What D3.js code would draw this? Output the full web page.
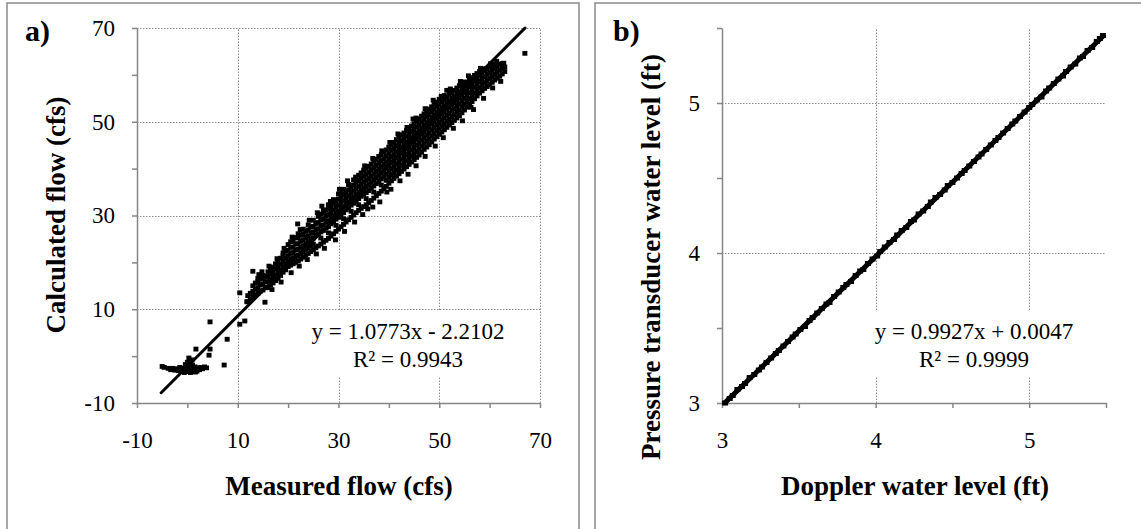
<!DOCTYPE html>
<html>
<head>
<meta charset="utf-8">
<title>Flow and water level comparison</title>
<script src="https://cdn.jsdelivr.net/npm/d3@7"></script>
<style>
  body { margin: 0; background: #fff; }
  svg { display: block; }
  .frame { fill: none; stroke: #8a8a8a; stroke-width: 1.5; }
  .axis path, .axis line { stroke: #868686; stroke-width: 1.5; }
  .axis text { font-family: "Liberation Serif", "Times New Roman", serif; font-size: 23px; fill: #000; }
  .grid line { stroke: #8c8c8c; stroke-width: 1; stroke-dasharray: 1.5,1.5; }
  .title { font-family: "Liberation Serif", "Times New Roman", serif; font-weight: bold; font-size: 27px; text-anchor: middle; }
  .tag { font-family: "Liberation Serif", "Times New Roman", serif; font-weight: bold; font-size: 30px; }
  .eq { font-family: "Liberation Serif", "Times New Roman", serif; font-size: 23px; text-anchor: middle; }
</style>
</head>
<body>
<script>
// ---- panel a: measured vs calculated flow (cfs)
// scattered points, [measured, calculated]
var flowScatter = [
  [-5.0,-2.2],[-4.6,-2.4],[-3.8,-2.6],[-3.3,-2.9],[-2.9,-2.6],[-2.5,-3.0],[-2.1,-2.7],[-1.8,-3.1],[-1.5,-2.4],[-1.3,-2.9],
  [-1.0,-3.2],[-0.8,-2.6],[-0.5,-3.0],[-0.3,-2.3],[-0.1,-3.3],[0.1,-2.7],[0.3,-3.1],[0.5,-2.4],[0.7,-2.9],[0.9,-3.3],
  [1.1,-2.6],[1.3,-3.0],[1.5,-2.3],[1.7,-2.8],[1.9,-3.2],[2.1,-2.5],[2.4,-2.9],[2.7,-2.4],[3.0,-2.7],[3.4,-2.3],
  [3.8,-2.5],[0.4,-2.0],[-0.4,-1.8],[1.0,-1.9],[0.6,-3.5],[-0.6,-3.5],[1.6,-3.4],[7.3,-1.9],[0.3,-0.4],[0.0,-1.3],
  [1.7,1.5],[4.3,0.2],[4.5,1.5],[4.5,7.3],[7.9,3.6],[0.9,-0.8],
  [10.4,6.8],[11.4,7.5],[10.4,13.5],[11.8,11.6],[13.0,18.1],[15.4,11.5],[14.2,17.4],
  [21.9,28.2],[26.7,32.0],[35.8,31.4],[38.2,32.9],[39.6,35.0],[44.8,50.6],[51.5,56.7],[56.3,53.1],[67.0,64.6]
];
// points straying just outside the dense band (upper and lower edges)
var flowEdge = [
  [14.8,18.0],[16.2,19.2],[17.8,20.8],[19.2,23.0],[20.8,25.4],[22.4,27.0],[24.2,29.0],[25.8,30.6],[28.4,33.0],
  [30.2,35.6],[31.8,37.4],[33.4,38.2],[35.2,40.6],[36.8,42.2],[38.6,43.8],[40.2,45.6],[41.8,47.4],[43.6,48.8],
  [45.4,50.8],[47.2,52.8],[48.8,54.6],[50.4,55.4],[52.2,57.0],[54.2,58.6],[55.8,59.8],[58.2,61.4],[60.2,62.4],
  [16.8,14.2],[18.6,15.8],[20.6,17.8],[22.2,19.2],[23.8,20.6],[25.6,21.8],[27.2,23.0],[29.4,24.8],[31.2,26.6],
  [33.2,28.6],[34.8,30.2],[36.8,31.8],[40.4,35.6],[42.2,37.4],[43.8,38.8],[45.4,40.6],[47.2,42.6],[49.2,44.8],
  [50.8,46.6],[52.8,48.6],[54.6,50.2],[56.8,52.6],[58.8,55.0],[60.6,57.2],[62.2,58.6],[62.8,62.5],[61.4,62.9]
];
// dense band of points: [measured, [calculated values at that measured flow]]
var flowColumns = [
  [12.0,[11.6,12.9]],[12.5,[12.2,13.4]],[13.0,[12.6,13.8,15.0]],[13.5,[13.0,14.3,15.6]],
  [14.0,[13.4,14.6,15.9,16.6]],[14.5,[13.9,15.2,16.4]],[15.0,[14.1,15.3,16.5,17.2]],[15.5,[14.6,15.9,17.0]],
  [16.0,[14.6,15.8,17.0,18.0]],[16.5,[15.2,16.4,17.6,18.5]],[17.0,[15.6,16.8,18.0,19.0]],[17.5,[16.1,17.3,18.6,19.7]],
  [18.0,[16.6,17.8,19.0,20.3]],[18.5,[17.2,18.4,19.6,20.9]],[19.0,[17.9,19.0,20.2,21.4,22.0]],[19.5,[18.4,19.7,20.9,22.4]],
  [20.0,[19.1,20.2,21.4,22.6,23.8]],[20.5,[19.4,20.7,21.9,23.2,24.4]],[21.0,[19.7,20.9,22.1,23.3,24.6]],
  [21.5,[20.0,21.3,22.6,23.9,25.3]],[22.0,[20.3,21.5,22.8,24.0,25.2,26.1]],[22.5,[20.7,21.9,23.2,24.5,25.8]],
  [23.0,[21.1,22.3,23.5,24.8,26.0,27.1]],[23.5,[21.5,22.8,24.0,25.3,26.6]],[24.0,[21.9,23.1,24.4,25.6,26.9,28.0]],
  [24.5,[22.3,23.6,24.9,26.2,27.5]],[25.0,[22.7,23.9,25.2,26.4,27.7,29.0]],[25.5,[23.1,25.7,27.0,28.3]],
  [26.0,[23.5,26.0,27.2,28.5,29.8]],[26.5,[23.9,25.2,26.5,27.8,29.1,30.3]],[27.0,[24.3,26.8,28.0,29.3,30.6,31.1]],
  [27.5,[24.7,27.3,28.6,29.9,31.2]],[28.0,[25.1,26.3,27.6,28.9,30.2,31.5,32.3]],[28.5,[25.6,28.2,29.5,30.8,32.0]],
  [29.0,[26.1,28.6,29.9,31.2,32.5,33.4]],[29.5,[26.6,27.9,29.2,30.5,31.8,33.1]],[30.0,[27.1,29.6,30.9,32.2,33.5,34.6]],
  [30.5,[27.6,30.2,31.5,32.8,34.1,35.1]],[31.0,[28.1,29.3,30.6,31.9,33.2,34.5,35.6]],[31.5,[28.6,31.2,32.5,33.8,35.1]],
  [32.0,[29.1,31.6,32.9,34.2,35.5,36.6]],[32.5,[29.6,30.9,32.2,33.5,34.8,36.1]],[33.0,[30.1,32.6,33.9,35.2,36.5,37.6]],
  [33.5,[30.6,33.2,34.5,35.8,37.1]],[34.0,[31.1,32.3,33.6,34.9,36.2,37.5,38.6]],[34.5,[31.5,34.1,35.4,36.7,38.0,39.1]],
  [35.0,[31.9,34.5,35.8,37.1,38.4,39.7]],[35.5,[32.3,33.6,34.9,36.2,37.5,38.8,40.1]],[36.0,[32.7,35.3,36.6,37.9,39.2,40.5]],
  [36.5,[33.2,35.8,37.1,38.4,39.7,41.0]],[37.0,[33.7,35.0,36.3,37.6,38.9,40.2,41.6]],[37.5,[34.2,36.8,38.1,39.4,40.7,42.0]],
  [38.0,[34.7,37.3,38.6,39.9,41.2,42.6]],[38.5,[35.2,36.5,37.8,39.1,40.4,41.7,43.0]],[39.0,[35.7,38.3,39.6,40.9,42.2,43.6]],
  [39.5,[36.2,37.5,38.8,40.1,41.4,42.7,44.0]],[40.0,[36.9,38.1,39.4,40.7,42.0,43.3,44.6]],
  [40.5,[37.4,38.7,40.0,41.3,42.6,43.9,45.1]],[41.0,[37.9,39.1,40.4,41.7,43.0,44.3,45.6]],
  [41.5,[38.4,39.7,41.0,42.3,43.6,44.9,46.2]],[42.0,[38.9,40.1,41.4,42.7,44.0,45.3,46.6]],
  [42.5,[39.4,40.7,42.0,43.3,44.6,45.9,47.2]],[43.0,[39.9,41.1,42.4,43.7,45.0,46.3,47.6]],
  [43.5,[40.4,41.7,43.0,44.3,45.6,46.9,48.1]],[44.0,[40.9,42.1,43.4,44.7,46.0,47.3,48.6]],
  [44.5,[41.4,42.7,44.0,45.3,46.6,47.9,49.1]],[45.0,[41.9,43.1,44.4,45.7,47.0,48.3,49.6]],
  [45.5,[42.4,43.7,45.0,46.3,47.6,48.9,50.1]],[46.0,[42.9,44.1,45.4,46.7,48.0,49.3,50.6]],
  [46.5,[43.5,44.8,46.1,47.4,48.7,50.0,51.2]],[47.0,[44.1,45.3,46.6,47.9,49.2,50.5,51.7]],
  [47.5,[44.6,45.9,47.2,48.5,49.8,51.1,52.2]],[48.0,[45.1,46.3,47.6,48.9,50.2,51.5,52.7]],
  [48.5,[45.7,47.0,48.3,49.6,50.9,52.2,53.2]],[49.0,[46.3,47.5,48.8,50.1,51.4,52.7,53.8]],
  [49.5,[46.8,48.1,49.4,50.7,52.0,53.3,54.2]],[50.0,[47.3,48.5,49.8,51.1,52.4,53.7,54.8]],
  [50.5,[47.8,49.1,50.4,51.7,53.0,54.3]],[51.0,[48.3,49.5,50.8,52.1,53.4,54.7,55.6]],
  [51.5,[48.8,50.1,51.4,52.7,54.0,55.2]],[52.0,[49.3,50.5,51.8,53.1,54.4,55.7,56.4]],
  [52.5,[49.8,51.1,52.4,53.7,55.0,56.2]],[53.0,[50.3,51.5,52.8,54.1,55.4,56.7]],
  [53.5,[50.8,52.1,53.4,54.7,56.0,57.2]],[54.0,[51.3,52.5,53.8,55.1,56.4,57.7]],
  [54.5,[51.9,53.2,54.5,55.8,57.1,58.2]],[55.0,[52.5,53.7,55.0,56.3,57.6,58.5]],
  [55.5,[53.1,54.4,55.7,57.0,58.2]],[56.0,[53.7,54.9,56.2,57.5,58.8,59.3]],
  [56.5,[54.3,55.6,56.9,58.2,59.4]],[57.0,[54.9,56.1,57.4,58.7,59.9]],
  [57.5,[55.5,56.8,58.1,59.4,60.3]],[58.0,[56.1,57.3,58.6,59.9,60.7]],
  [58.5,[56.6,57.9,59.2,60.5]],[59.0,[57.1,58.3,59.6,60.9,61.3]],
  [59.5,[57.5,58.8,60.1,61.4]],[60.0,[57.9,59.2,60.5,61.8]],
  [60.5,[58.4,59.7,61.0,62.1]],[61.0,[58.9,60.1,61.4,62.3]],
  [61.5,[59.3,60.6,61.9]],[62.0,[59.7,61.0,62.3]],[62.5,[60.2,61.4,62.4]],[63.0,[60.7,61.7]]
];
var flowTicks = [-10, 10, 30, 50, 70];
var flowMinor = [0, 20, 40, 60];
var flowTrend = [1.0773, -2.2102];        // slope, intercept
var flowTrendRange = [-5.2, 67.03];
var flowEq = ["y = 1.0773x - 2.2102", "R\u00b2 = 0.9943"];

// ---- panel b: doppler vs pressure transducer water level (ft)
var dopplerLevel = [
  3.02,3.05,3.07,3.10,3.13,3.15,3.18,3.21,3.24,3.26,
  3.29,3.32,3.35,3.37,3.40,3.43,3.46,3.48,3.51,3.54,
  3.57,3.59,3.62,3.65,3.68,3.70,3.73,3.76,3.79,3.81,
  3.84,3.87,3.90,3.92,3.95,3.98,4.01,4.03,4.06,4.09,
  4.12,4.14,4.17,4.20,4.23,4.25,4.28,4.31,4.34,4.36,
  4.39,4.42,4.45,4.47,4.50,4.53,4.56,4.58,4.61,4.64,
  4.67,4.69,4.72,4.75,4.78,4.80,4.83,4.86,4.89,4.91,
  4.94,4.97,5.00,5.02,5.05,5.08,5.11,5.13,5.16,5.19,
  5.22,5.24,5.27,5.30,5.33,5.35,5.38,5.41,5.44,5.46,
  5.48
];
var transducerLevel = [
  3.00,3.03,3.05,3.09,3.11,3.13,3.17,3.19,3.22,3.24,
  3.27,3.30,3.33,3.35,3.38,3.41,3.44,3.46,3.49,3.51,
  3.55,3.57,3.60,3.63,3.66,3.67,3.71,3.74,3.77,3.79,
  3.81,3.85,3.88,3.89,3.93,3.96,3.98,4.01,4.04,4.07,
  4.09,4.12,4.15,4.17,4.21,4.22,4.26,4.28,4.31,4.34,
  4.37,4.39,4.42,4.45,4.47,4.50,4.53,4.55,4.58,4.61,
  4.64,4.66,4.69,4.72,4.75,4.77,4.80,4.83,4.86,4.88,
  4.91,4.94,4.97,4.99,5.02,5.04,5.08,5.10,5.13,5.16,
  5.18,5.21,5.24,5.26,5.30,5.31,5.35,5.37,5.41,5.43,
  5.45
];
var levelTicks = [3, 4, 5];
var levelMinor = [3.5, 4.5, 5.5];
var levelTrend = [0.9927, 0.0047];
var levelTrendRange = [3.02, 5.48];
var levelEq = ["y = 0.9927x + 0.0047", "R\u00b2 = 0.9999"];

var W = 1141, H = 529;

var svg = d3.select("body").append("svg")
    .attr("width", W)
    .attr("height", H);

svg.append("rect").attr("width", W).attr("height", H).attr("fill", "#fff");

// outer chart frames (they run off the bottom / right edge)
svg.append("rect").attr("class", "frame")
    .attr("x", 7).attr("y", 3).attr("width", 572).attr("height", 560);
svg.append("rect").attr("class", "frame")
    .attr("x", 595).attr("y", 3).attr("width", 580).attr("height", 560);

function drawPanel(opt) {
  var x = opt.x, y = opt.y;
  var g = svg.append("g");

  // dotted gridlines at major ticks (not on the axis itself)
  var grid = g.append("g").attr("class", "grid");
  grid.selectAll(".gx")
      .data(opt.ticks.filter(d => d !== x.domain()[0]))
      .enter().append("line")
      .attr("x1", d => Math.round(x(d)) + 0.5).attr("x2", d => Math.round(x(d)) + 0.5)
      .attr("y1", y.range()[0]).attr("y2", y.range()[1]);
  grid.selectAll(".gy")
      .data(opt.ticks.filter(d => d !== y.domain()[0]))
      .enter().append("line")
      .attr("y1", d => Math.round(y(d)) + 0.5).attr("y2", d => Math.round(y(d)) + 0.5)
      .attr("x1", x.range()[0]).attr("x2", x.range()[1]);

  // white box behind the trendline equation
  g.append("rect")
      .attr("x", opt.eqBox[0]).attr("y", opt.eqBox[1])
      .attr("width", opt.eqBox[2]).attr("height", opt.eqBox[3])
      .attr("fill", "#fff");
  g.selectAll(".eq")
      .data(opt.eq)
      .enter().append("text")
      .attr("class", "eq")
      .attr("x", opt.eqPos[0])
      .attr("y", (d, i) => opt.eqPos[1] + i * 28)
      .text(d => d);

  // axes
  var xAxis = g.append("g").attr("class", "axis")
      .attr("transform", "translate(0," + y.range()[0] + ")")
      .call(d3.axisBottom(x).tickValues(opt.ticks).tickSize(5).tickSizeOuter(0)
        .tickFormat(d => String(d)));
  xAxis.selectAll("text").attr("y", 45).attr("dy", 0);
  g.append("g").attr("class", "axis")
      .attr("transform", "translate(0," + y.range()[0] + ")")
      .call(d3.axisBottom(x).tickValues(opt.minor).tickSize(5).tickFormat(""))
      .select(".domain").remove();

  var yAxis = g.append("g").attr("class", "axis")
      .attr("transform", "translate(" + x.range()[0] + ",0)")
      .call(d3.axisLeft(y).tickValues(opt.ticks).tickSize(5).tickSizeOuter(0)
        .tickFormat(d => String(d)));
  yAxis.selectAll("text").attr("x", -22);
  g.append("g").attr("class", "axis")
      .attr("transform", "translate(" + x.range()[0] + ",0)")
      .call(d3.axisLeft(y).tickValues(opt.minor).tickSize(5).tickFormat(""))
      .select(".domain").remove();

  // data markers
  var mw = opt.marker[0], mh = opt.marker[1];
  g.append("g").selectAll("rect")
      .data(opt.points)
      .enter().append("rect")
      .attr("x", d => x(d[0]) - mw / 2)
      .attr("y", d => y(d[1]) - mh / 2)
      .attr("width", mw)
      .attr("height", mh)
      .attr("fill", "#000");

  // linear trendline
  var t0 = opt.trendRange[0], t1 = opt.trendRange[1];
  g.append("line")
      .attr("x1", x(t0)).attr("y1", y(opt.trend[0] * t0 + opt.trend[1]))
      .attr("x2", x(t1)).attr("y2", y(opt.trend[0] * t1 + opt.trend[1]))
      .attr("stroke", "#000")
      .attr("stroke-width", opt.trendWidth)
      .attr("stroke-linecap", "round");

  // titles
  g.append("text").attr("class", "title")
      .attr("x", opt.xTitlePos[0]).attr("y", opt.xTitlePos[1])
      .text(opt.xTitle);
  g.append("text").attr("class", "title")
      .attr("transform", "translate(" + opt.yTitlePos[0] + "," + opt.yTitlePos[1] + ")rotate(-90)")
      .text(opt.yTitle);
  g.append("text").attr("class", "tag")
      .attr("x", opt.tagPos[0]).attr("y", opt.tagPos[1])
      .text(opt.tag);
}

// expand the dense band into single points
var flowPoints = flowScatter.concat(flowEdge);
flowColumns.forEach(function(c) {
  c[1].forEach(function(v) { flowPoints.push([c[0], v]); });
});

drawPanel({
  x: d3.scaleLinear().domain([-10, 70]).range([137, 540]),
  y: d3.scaleLinear().domain([-10, 70]).range([403, 28]),
  ticks: flowTicks,
  minor: flowMinor,
  points: flowPoints,
  marker: [5, 4.8],
  trend: flowTrend,
  trendRange: flowTrendRange,
  trendWidth: 3,
  eq: flowEq,
  eqPos: [408, 339],
  eqBox: [296, 311, 226, 65],
  xTitle: "Measured flow (cfs)",
  xTitlePos: [339, 495],
  yTitle: "Calculated flow (cfs)",
  yTitlePos: [65, 215],
  tag: "a)",
  tagPos: [25, 41]
});

drawPanel({
  x: d3.scaleLinear().domain([3, 5.5]).range([722, 1106]),
  y: d3.scaleLinear().domain([3, 5.5]).range([403, 28]),
  ticks: levelTicks,
  minor: levelMinor,
  points: dopplerLevel.map((d, i) => [d, transducerLevel[i]]),
  marker: [6, 5],
  trend: levelTrend,
  trendRange: levelTrendRange,
  trendWidth: 5,
  eq: levelEq,
  eqPos: [974, 339],
  eqBox: [862, 311, 224, 65],
  xTitle: "Doppler water level (ft)",
  xTitlePos: [915, 495],
  yTitle: "Pressure transducer water level (ft)",
  yTitlePos: [660, 257],
  tag: "b)",
  tagPos: [613, 41]
});
</script>
</body>
</html>
